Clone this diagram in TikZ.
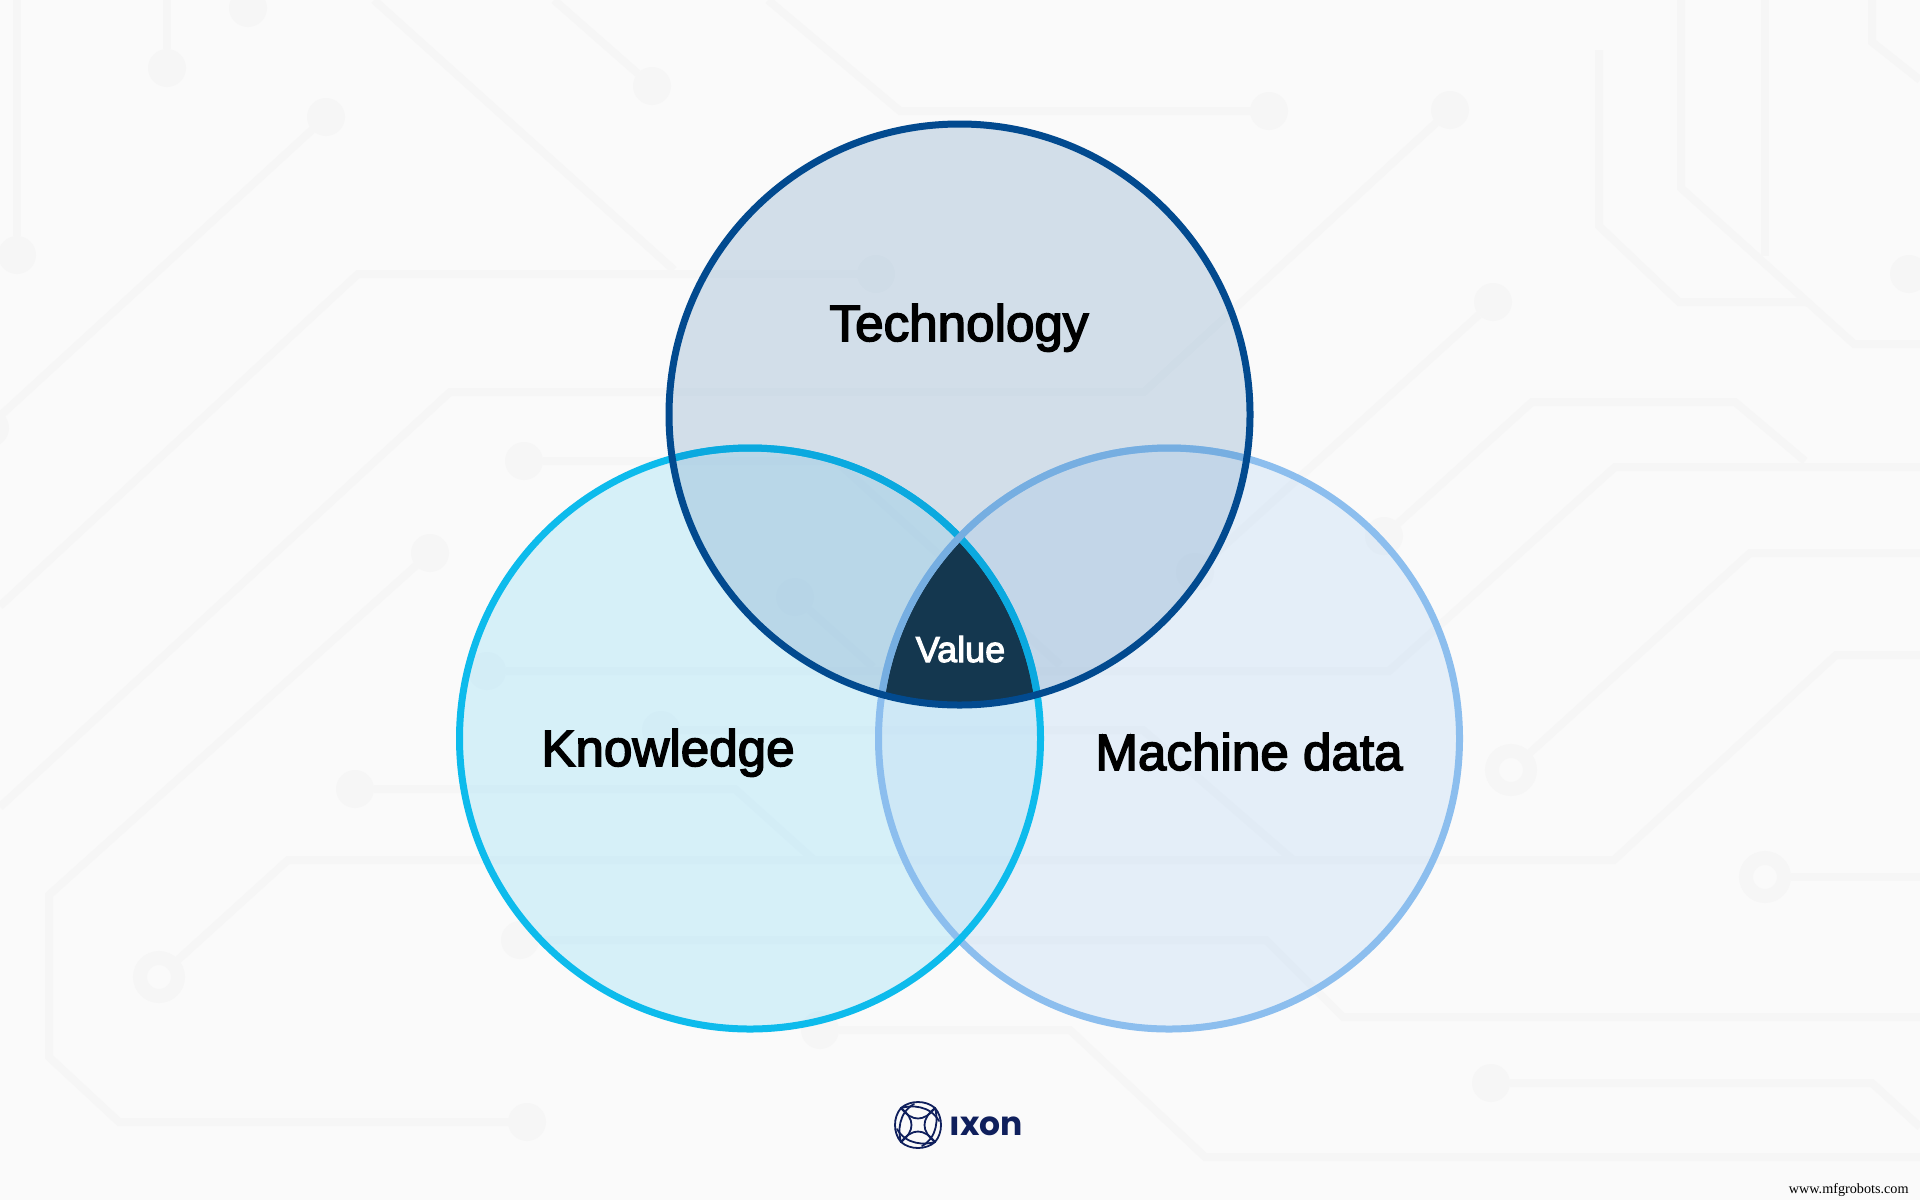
\documentclass[tikz,border=0pt]{standalone}
\usepackage{fontspec}
\setmainfont{Liberation Sans}
\newfontfamily\labelfont[FakeBold=3]{Liberation Sans}
\newfontfamily\logofont{Poppins}
\newfontfamily\markfont{Liberation Serif}
\definecolor{bgc}{HTML}{FAFAFA}
\definecolor{tracec}{HTML}{F6F6F6}
\definecolor{techfill}{RGB}{120,160,197}
\definecolor{knowfill}{HTML}{A0E1F7}
\definecolor{machfill}{HTML}{C3DCF5}
\definecolor{techline}{HTML}{024A8F}
\definecolor{knowline}{HTML}{0DBBEC}
\definecolor{machline}{HTML}{8CBEEE}
\definecolor{knowlinein}{HTML}{0BA9DF}
\definecolor{machlinein}{HTML}{76AEE1}
\definecolor{valuefill}{HTML}{14374F}
\definecolor{logoc}{HTML}{0F1F5C}
\tikzset{
  trace/.style={draw=tracec,line width=4pt,line join=miter},
  pad/.style={circle,fill=tracec,minimum size=19pt,inner sep=0pt,outer sep=0pt},
  ringpad/.style={circle,draw=tracec,line width=7pt,minimum size=19pt,inner sep=0pt},
  biglabel/.style={anchor=base,text=black,font=\labelfont\fontsize{25.6}{30}\selectfont},
  vennline/.style={line width=3.5pt},
  logoline/.style={draw=logoc,line width=0.9pt,line cap=round}
}
\begin{document}
\begin{tikzpicture}[x=0.5pt,y=-0.5pt]
\useasboundingbox (0,0) rectangle (1920,1200);
\fill[bgc] (0,0) rectangle (1920,1200);
% circuit pads
\node[pad] (d1) at (17,255) {};
\node[pad] (d2) at (167,68) {};
\node[pad] (d3) at (248,8) {};
\node[pad] (d4) at (652,86) {};
\node[pad] (d5) at (1269,111) {};
\node[pad] (d6) at (326,117) {};
\node[pad] (d7) at (876,274) {};
\node[pad] (d8) at (1450,110) {};
\node[pad] (d9) at (430,553) {};
\node[pad] (d10) at (527,1122) {};
\node[pad] (d11) at (524,461) {};
\node[pad] (d12) at (487,671) {};
\node[pad] (d13) at (795,597) {};
\node[pad] (d14) at (661,730) {};
\node[pad] (d15) at (355,789) {};
\node[pad] (d16) at (520,940) {};
\node[pad] (d17) at (820,1030) {};
\node[pad] (d18) at (1491,1083) {};
\node[pad] (d19) at (1384,536) {};
\node[pad] (d20) at (1493,302) {};
\node[pad] (d21) at (1195,572) {};
\node[pad] (d22) at (1909,274) {};
\node[pad] (d23) at (-10,428) {};
\node[ringpad] (r1) at (159,977) {};
\node[ringpad] (r2) at (1511,770) {};
\node[ringpad] (r3) at (1765,877) {};
% circuit traces
\draw[trace] (17,0) -- (d1);
\draw[trace] (167,0) -- (d2);
\draw[trace] (374,0) -- (674,270);
\draw[trace] (554,0) -- (d4);
\draw[trace] (768,0) -- (900,111) -- (d5);
\draw[trace] (d6) -- (0,416);
\draw[trace] (d7) -- (358,274) -- (0,606);
\draw[trace] (d8) -- (1144,392) -- (450,392) -- (0,807);
\draw[trace] (d9) -- (49,895) -- (49,1057) -- (119,1122) -- (d10);
\draw[trace] (d11) -- (836,461) -- (1060,665);
\draw[trace] (d12) -- (1389,671) -- (1615,467) -- (1920,467);
\draw[trace] (d13) -- (873,667);
\draw[trace] (d14) -- (1143,730) -- (1293,860);
\draw[trace] (r1) -- (288,860) -- (1614,860) -- (1836,655) -- (1920,655);
\draw[trace] (d15) -- (735,789) -- (814,860);
\draw[trace] (d16) -- (1266,940) -- (1343,1017) -- (1920,1017);
\draw[trace] (d17) -- (1070,1030) -- (1205,1157) -- (1920,1157);
\draw[trace] (r2) -- (1750,553) -- (1920,553);
\draw[trace] (r3) -- (1920,877);
\draw[trace] (d18) -- (1872,1083) -- (1920,1127);
\draw[trace] (d19) -- (1532,402) -- (1735,402) -- (1805,461);
\draw[trace] (d20) -- (d21);
\draw[trace] (1599,50) -- (1599,226) -- (1679,302) -- (1808,302);
\draw[trace] (1681,0) -- (1681,188) -- (1854,344) -- (1920,344);
\draw[trace] (1765,0) -- (1765,256);
\draw[trace] (1872,0) -- (1872,42) -- (1920,80);
% circle centres
\coordinate (T) at (959.5,414.5);
\coordinate (K) at (750,738.5);
\coordinate (M) at (1169,738.5);
\def\vr{290.5}
% translucent fills
\fill[knowfill,fill opacity=0.4] (K) circle (\vr);
\fill[machfill,fill opacity=0.4] (M) circle (\vr);
\fill[techfill,fill opacity=0.3] (T) circle (\vr);
% value region
\begin{scope}
  \clip (T) circle (\vr);
  \clip (K) circle (\vr);
  \fill[valuefill] (M) circle (\vr);
\end{scope}
% outlines
\draw[vennline,machline] (M) circle (\vr);
\draw[vennline,knowline] (K) circle (\vr);
\begin{scope}
  \clip (T) circle (\vr);
  \draw[vennline,knowlinein] (K) circle (\vr);
  \draw[vennline,machlinein] (M) circle (\vr);
\end{scope}
\draw[vennline,techline] (T) circle (\vr);
% labels
\node[biglabel] (tech) at (959,341) {Technology};
\node[biglabel] (know) at (668,766) {Knowledge};
\node[biglabel] (mach) at (1249,770) {Machine data};
\node[anchor=base,text=white,font=\labelfont\fontsize{18}{22}\selectfont] (val) at (960.5,662) {Value};
% logo mark
\begin{scope}[shift={(918,1125)}]
  \foreach \a in {0,90,180,270}{
    \begin{scope}[rotate=\a]
      \draw[logoline] (-17,-17) .. controls (-6,-3) and (6,-3) .. (17,-17);
      \draw[logoline] (-17,-17) .. controls (-8,-25) and (8,-25) .. (17,-17);
      \draw[logoline] (-17,-17) .. controls (-7,-20) and (12,-20) .. (21,-4);
    \end{scope}
  }
\end{scope}
\node[anchor=base west,inner sep=0pt,text=logoc,font=\logofont\bfseries\fontsize{16.5}{20}\selectfont] (logotext) at (949,1135) {ıxon};
\node[anchor=base east,inner sep=0pt,text=black,font=\markfont\fontsize{7.1}{9}\selectfont] (mark) at (1909,1193) {www.mfgrobots.com};
\end{tikzpicture}
\end{document}
